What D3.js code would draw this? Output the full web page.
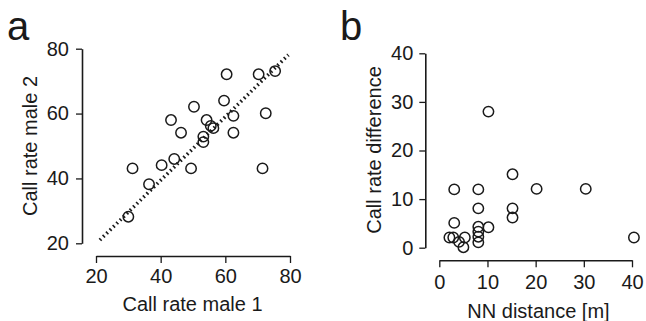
<!DOCTYPE html>
<html><head><meta charset="utf-8">
<script src="https://cdn.jsdelivr.net/npm/d3@7/dist/d3.min.js"></script>
<style>
html,body{margin:0;padding:0;background:#fff;}
svg text{font-family:"Liberation Sans",Arial,Helvetica,sans-serif;fill:#1a1a1a;}
</style></head>
<body>
<svg id="chart" width="646" height="321"></svg>
<script>
// Panel a: call rate male 1 vs male 2
const maleX = [30, 31.3, 36.4, 40.3, 44.2, 43.2, 46.3, 49.4, 50.3, 53.2, 53.2, 54.2, 55.5, 56.3, 59.6, 60.4, 62.5, 62.5, 70.3, 75.4, 72.5, 71.5];
const maleY = [28.2, 43.1, 38.2, 44.1, 46, 58, 54.1, 43.1, 62.1, 51.2, 52.9, 58, 56.2, 55.5, 64, 72.1, 59.3, 54.1, 72.1, 73.1, 60.1, 43.1];
const fitX = [21.2, 79.5];
const fitY = [21.0, 78.1];
const ticksA = [20, 40, 60, 80];

// Panel b: NN distance vs call rate difference
const nnDist = [10.2, 15.2, 3.1, 8.1, 20.2, 30.4, 8.1, 15.2, 15.2, 3.1, 10.2, 8.1, 8.1, 8.1, 8.1, 2.1, 2.9, 4.1, 5.3, 5.0, 40.4];
const rateDiff = [28, 15.1, 12, 12, 12.1, 12.1, 8.1, 8.1, 6.2, 5.1, 4.2, 4.3, 3.3, 2.26, 1.1, 2.1, 2.1, 1.2, 2.1, 0.1, 2.1];
const ticksBx = [0, 10, 20, 30, 40];
const ticksBy = [0, 10, 20, 30, 40];

const svg = d3.select("#chart");
const ink = "#1a1a1a";

function styleAxis(g) {
  g.selectAll("path.domain").attr("stroke", ink).attr("stroke-width", 1.6);
  g.selectAll(".tick line").attr("stroke", ink).attr("stroke-width", 1.3);
  g.selectAll(".tick text").attr("font-size", 20).attr("fill", ink)
    .style("font-family", '"Liberation Sans",Arial,Helvetica,sans-serif');
}

// ---------- Panel a ----------
const xa = d3.scaleLinear().domain([20, 80]).range([96, 290]);
const ya = d3.scaleLinear().domain([20, 80]).range([243.3, 48.7]);

svg.append("g").attr("transform", "translate(0,256)")
  .call(d3.axisBottom(xa).tickValues(ticksA).tickSize(7).tickSizeOuter(0).tickPadding(6))
  .call(styleAxis);
svg.append("g").attr("transform", "translate(82,0)")
  .call(d3.axisLeft(ya).tickValues(ticksA).tickSize(6).tickSizeOuter(0).tickPadding(7))
  .call(styleAxis);

svg.append("line")
  .attr("x1", xa(fitX[0])).attr("y1", ya(fitY[0]))
  .attr("x2", xa(fitX[1])).attr("y2", ya(fitY[1]))
  .attr("stroke", ink).attr("stroke-width", 3.6)
  .attr("stroke-dasharray", "1.6,3.1");

svg.append("g").selectAll("circle").data(maleX).join("circle")
  .attr("cx", (d) => xa(d)).attr("cy", (d, i) => ya(maleY[i]))
  .attr("r", 5.2).attr("fill", "none").attr("stroke", ink).attr("stroke-width", 1.5);

svg.append("text").attr("x", 192.5).attr("y", 311).attr("text-anchor", "middle")
  .attr("font-size", 20).text("Call rate male 1");
svg.append("text").attr("transform", "translate(37,146) rotate(-90)")
  .attr("text-anchor", "middle").attr("font-size", 20).text("Call rate male 2");
svg.append("text").attr("x", 7).attr("y", 40).attr("font-size", 40).text("a");

// ---------- Panel b ----------
const xb = d3.scaleLinear().domain([0, 40]).range([439.3, 632]);
const yb = d3.scaleLinear().domain([0, 40]).range([247.7, 53.3]);

svg.append("g").attr("transform", "translate(0,260.3)")
  .call(d3.axisBottom(xb).tickValues(ticksBx).tickSize(7).tickSizeOuter(0).tickPadding(8))
  .call(styleAxis);
svg.append("g").attr("transform", "translate(425.3,0)")
  .call(d3.axisLeft(yb).tickValues(ticksBy).tickSize(6).tickSizeOuter(0).tickPadding(6))
  .call(styleAxis);

svg.append("g").selectAll("circle").data(nnDist).join("circle")
  .attr("cx", (d) => xb(d)).attr("cy", (d, i) => yb(rateDiff[i]))
  .attr("r", 5.2).attr("fill", "none").attr("stroke", ink).attr("stroke-width", 1.5);

svg.append("text").attr("x", 538.5).attr("y", 318).attr("text-anchor", "middle")
  .attr("font-size", 20).text("NN distance [m]");
svg.append("text").attr("transform", "translate(381,150) rotate(-90)")
  .attr("text-anchor", "middle").attr("font-size", 20).text("Call rate difference");
svg.append("text").attr("x", 340).attr("y", 40).attr("font-size", 40).text("b");
</script>
</body></html>
